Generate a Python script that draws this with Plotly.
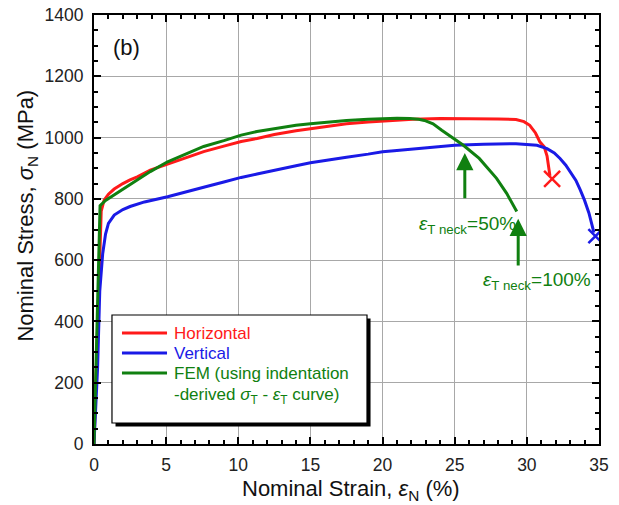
import plotly.graph_objects as go

# Nominal stress-strain curves (strain in %, stress in MPa)
horiz_strain = [0, 0.3, 0.5, 0.7, 1.0, 1.4, 2.0, 2.5, 3.0, 3.9, 5.1, 6.5, 7.6, 9.0, 10.2,
                11.3, 12.5, 14.0, 15.0, 16.5, 17.5, 19.0, 20.0, 22.1, 24.0, 26.0, 28.0,
                29.25, 29.8, 30.2, 30.6, 30.9, 31.2, 31.4, 31.5, 31.6]
horiz_stress = [0, 500, 760, 796, 815, 832, 850, 862, 872, 894, 914, 935, 954, 972, 987,
                997, 1010, 1022, 1029, 1040, 1045, 1051, 1054, 1060, 1062, 1062, 1061,
                1059, 1052, 1040, 1015, 986, 970, 940, 905, 875]
horiz_break = (31.75, 865)

vert_strain = [0, 0.25, 0.4, 0.6, 0.8, 1.0, 1.4, 2.0, 2.5, 3.5, 5.1, 6.5, 7.6, 9.0, 10.2,
               11.3, 12.5, 14.0, 15.0, 16.5, 17.5, 19.0, 20.0, 20.8, 22.5, 23.8, 25.0,
               27.0, 29.25, 30.7, 31.4, 31.9, 32.3, 32.7, 33.0, 33.4, 33.7, 34.0, 34.3,
               34.5, 34.65]
vert_stress = [0, 250, 500, 620, 685, 720, 747, 765, 775, 790, 807, 823, 838, 855, 870,
               881, 894, 908, 918, 930, 936, 946, 954, 957, 965, 970, 975,
               978, 980, 975, 964, 950, 932, 910, 888, 860, 829, 795, 754,
               720, 690]
vert_break = (34.75, 678)

fem_strain = [0, 0.42, 0.8, 1.4, 2.5, 3.9, 5.1, 6.5, 7.6, 9.0, 10.2, 11.3, 12.5, 14.0,
              15.0, 16.5, 17.5, 19.0, 20.0, 21.0, 21.9, 22.5, 22.9, 23.5, 24.1, 24.8,
              25.6, 26.7, 27.9, 28.6, 29.3]
fem_stress = [0, 778, 795, 813, 845, 889, 921, 948, 971, 990, 1008, 1020, 1030, 1040,
              1045, 1052, 1056, 1060, 1062, 1063, 1062, 1060, 1056, 1045, 1024, 1002,
              975, 932, 867, 818, 759]

# Neck-onset markers: (strain, arrow tip stress, arrow tail stress)
neck50 = (25.7, 950, 797)
neck100 = (29.4, 735, 578)

x_ticks = [0, 5, 10, 15, 20, 25, 30, 35]
y_ticks = [0, 200, 400, 600, 800, 1000, 1200, 1400]

RED = "#ff1a1a"
BLUE = "#1a1ae6"
GREEN = "#108010"
FONT = "Arial, Liberation Sans, sans-serif"

fig = go.Figure()
fig.add_trace(go.Scatter(x=horiz_strain, y=horiz_stress, mode="lines",
                         line=dict(color=RED, width=3), showlegend=False))
fig.add_trace(go.Scatter(x=vert_strain, y=vert_stress, mode="lines",
                         line=dict(color=BLUE, width=3), showlegend=False))
fig.add_trace(go.Scatter(x=fem_strain, y=fem_stress, mode="lines",
                         line=dict(color=GREEN, width=3), showlegend=False))
fig.add_trace(go.Scatter(x=[horiz_break[0]], y=[horiz_break[1]], mode="markers",
                         marker=dict(symbol="x-thin-open", size=16, color=RED,
                                     line=dict(color=RED, width=2.5)),
                         showlegend=False))
fig.add_trace(go.Scatter(x=[vert_break[0]], y=[vert_break[1]], mode="markers",
                         marker=dict(symbol="x-thin-open", size=14, color=BLUE,
                                     line=dict(color=BLUE, width=2.5)),
                         showlegend=False))

axis_common = dict(
    showline=True, linecolor="black", linewidth=2, mirror="allticks",
    ticks="inside", ticklen=7, tickwidth=1.5, tickcolor="black",
    showgrid=True, gridcolor="#a8a8a8", gridwidth=1, zeroline=False,
    tickfont=dict(family=FONT, size=17.5, color="#222"),
    automargin=False,
)

fig.update_xaxes(range=[0, 35], tickvals=x_ticks, ticklabelstandoff=4,
                 minor=dict(dtick=1, ticks="inside", ticklen=4, tickcolor="black",
                            showgrid=False),
                 **axis_common)
fig.update_yaxes(range=[0, 1400], tickvals=y_ticks, ticklabelstandoff=5,
                 minor=dict(dtick=50, ticks="inside", ticklen=4, tickcolor="black",
                            showgrid=False),
                 **axis_common)

annotations = [
    dict(x=0.5085, y=-0.108, xref="paper", yref="paper", xanchor="center",
         yanchor="middle", showarrow=False,
         text="Nominal Strain, <i>ε</i><sub>N</sub> (%)",
         font=dict(family=FONT, size=22, color="#111")),
    dict(x=-0.133, y=0.532, xref="paper", yref="paper", xanchor="center",
         yanchor="middle", showarrow=False, textangle=-90,
         text="Nominal Stress, <i>σ</i><sub>N</sub> (MPa)",
         font=dict(family=FONT, size=22, color="#111")),
]
for strain, tip, tail in (neck50, neck100):
    annotations.append(dict(x=strain, y=tip, ax=strain, ay=tail, xref="x", yref="y",
                            axref="x", ayref="y", text="", showarrow=True,
                            arrowhead=2, arrowsize=1.15, arrowwidth=3,
                            arrowcolor=GREEN, standoff=0))

annotations.append(dict(x=22.4, y=716, xref="x", yref="y", xanchor="left",
                        yanchor="middle", showarrow=False,
                        text="<i>ε</i><sub>T neck</sub>=50%",
                        font=dict(family=FONT, size=19, color=GREEN)))
annotations.append(dict(x=26.8, y=533, xref="x", yref="y", xanchor="left",
                        yanchor="middle", showarrow=False,
                        text="<i>ε</i><sub>T neck</sub>=100%",
                        font=dict(family=FONT, size=19, color=GREEN)))
annotations.append(dict(x=1.2, y=1295, xref="x", yref="y", xanchor="left",
                        yanchor="middle", showarrow=False, text="(b)",
                        font=dict(family=FONT, size=22, color="#111")))

# Legend drawn as a framed box with a drop shadow
box = dict(x0=0.0356, x1=0.5406, y0=0.049, y1=0.3007)
shapes = [
    dict(type="rect", xref="paper", yref="paper",
         x0=box["x0"] + 0.007, x1=box["x1"] + 0.007,
         y0=box["y0"] - 0.008, y1=box["y1"] - 0.008,
         fillcolor="black", line=dict(width=0), layer="above"),
    dict(type="rect", xref="paper", yref="paper", **box,
         fillcolor="white", line=dict(color="black", width=1.2), layer="above"),
]
legend_rows = [
    (RED, "Horizontal", 0.2587),
    (BLUE, "Vertical", 0.2121),
    (GREEN, "FEM (using indentation", 0.1655),
]
for color, label, yp in legend_rows:
    shapes.append(dict(type="line", xref="paper", yref="paper", x0=0.0554, x1=0.1446,
                       y0=yp, y1=yp, line=dict(color=color, width=3), layer="above"))
    annotations.append(dict(x=0.1539, y=yp, xref="paper", yref="paper", xanchor="left",
                            yanchor="middle", showarrow=False, text=label,
                            font=dict(family=FONT, size=17, color=color)))
annotations.append(dict(x=0.1539, y=0.112, xref="paper", yref="paper", xanchor="left",
                        yanchor="middle", showarrow=False,
                        text="-derived <i>σ</i><sub>T</sub> - <i>ε</i><sub>T</sub> curve)",
                        font=dict(family=FONT, size=17, color=GREEN)))

fig.update_layout(
    width=619, height=505,
    margin=dict(l=94, r=20, t=15, b=61),
    paper_bgcolor="white", plot_bgcolor="white",
    shapes=shapes, annotations=annotations,
    font=dict(family=FONT),
)

fig.write_html("out.html")
